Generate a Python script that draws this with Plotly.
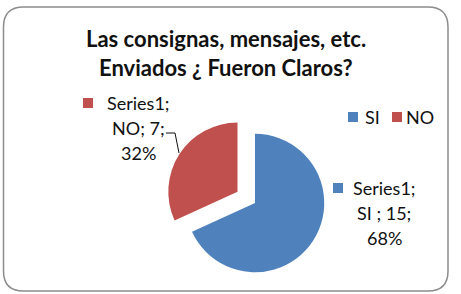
import plotly.graph_objects as go

# ---- data ----
series_name = "Series1"
categories = ["SI ", "NO"]
values = [15, 7]
colors = ["#4F81BD", "#C0504D"]
title_lines = ["Las consignas, mensajes, etc.", "Enviados ¿ Fueron Claros?"]

W, H = 461, 294
def X(px): return px / W
def Y(py): return 1 - py / H

total = sum(values)
pcts = [round(100 * v / total) for v in values]

fig = go.Figure(go.Pie(
    labels=categories, values=values, sort=False, direction="clockwise", rotation=0,
    marker=dict(colors=colors, line=dict(width=0)),
    pull=[0, 0.3], textinfo="none", hoverinfo="label+value+percent",
    domain=dict(x=[X(165), X(345)], y=[Y(293), Y(113)]),
    showlegend=False,
))

font = "Lato, 'Open Sans', sans-serif"
ann = []
shapes = []

# title
for i, line in enumerate(title_lines):
    ann.append(dict(text=f"<b>{line}</b>", x=X(226), y=Y(38 + 29 * i), xref="paper", yref="paper",
                    showarrow=False, xanchor="center", yanchor="middle",
                    font=dict(family=font, size=22, color="#111")))

# legend (manual)
leg_pos = [(348, 363), (392, 404)]
for (sx, tx), cat, col in zip(leg_pos, categories, colors):
    shapes.append(dict(type="rect", xref="paper", yref="paper", x0=X(sx), x1=X(sx + 10),
                       y0=Y(122), y1=Y(112), fillcolor=col, line=dict(width=0)))
    ann.append(dict(text=cat.strip(), x=X(tx), y=Y(117), xref="paper", yref="paper", showarrow=False,
                    xanchor="left", yanchor="middle", font=dict(family=font, size=18, color="#111")))

# data labels
label_pos = [((384, [188, 213, 238]), 333), ((138, [103, 128, 153]), 83)]
for ((cx, ys), sqx), cat, v, p, col in zip(label_pos, categories, values, pcts, colors):
    lines = [f"{series_name};", f"{cat}; {v};", f"{p}%"]
    for ln, yy in zip(lines, ys):
        ann.append(dict(text=ln, x=X(cx), y=Y(yy), xref="paper", yref="paper", showarrow=False,
                        xanchor="center", yanchor="middle", font=dict(family=font, size=18, color="#111")))
    shapes.append(dict(type="rect", xref="paper", yref="paper", x0=X(sqx), x1=X(sqx + 10),
                       y0=Y(ys[0] + 5), y1=Y(ys[0] - 5), fillcolor=col, line=dict(width=0)))

# leader line for NO label
shapes.append(dict(type="path", xref="paper", yref="paper",
                   path=f"M{X(166)},{Y(133)} L{X(175)},{Y(133)} L{X(179)},{Y(153)}",
                   line=dict(color="#111", width=1)))

# rounded border
l, r, t, b, rad = X(3.5), X(448), Y(7), Y(291), 20
rx, ry = rad / W, rad / H
path = (f"M{l+rx},{t} L{r-rx},{t} Q{r},{t} {r},{t-ry} L{r},{b+ry} Q{r},{b} {r-rx},{b} "
        f"L{l+rx},{b} Q{l},{b} {l},{b+ry} L{l},{t-ry} Q{l},{t} {l+rx},{t} Z")
shapes.append(dict(type="path", xref="paper", yref="paper", path=path,
                   line=dict(color="#8c8c8c", width=1.5)))

fig.update_layout(width=W, height=H, margin=dict(l=0, r=0, t=0, b=0),
                  paper_bgcolor="white", plot_bgcolor="white",
                  annotations=ann, shapes=shapes)
fig.write_html("out.html")
